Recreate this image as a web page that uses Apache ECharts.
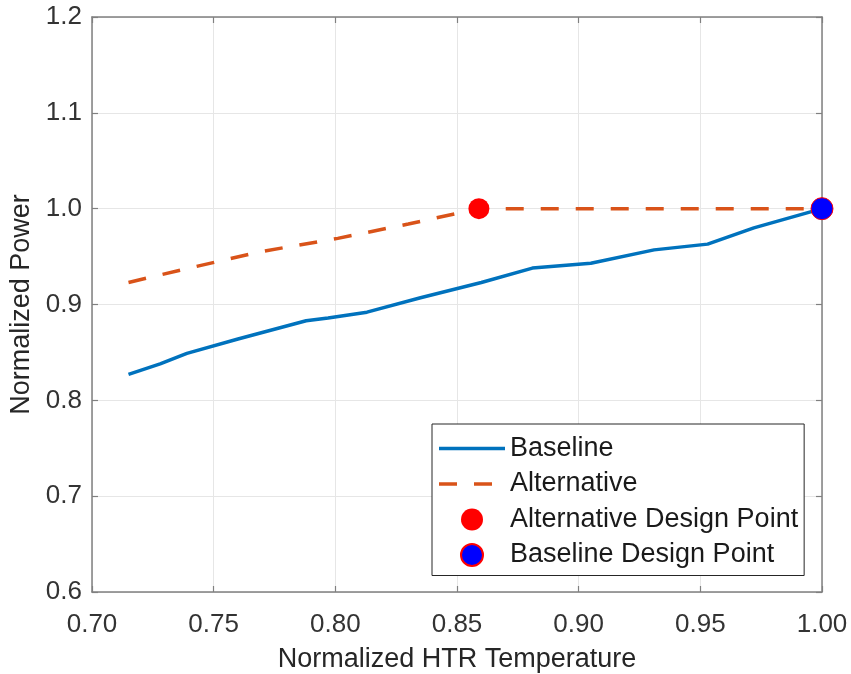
<!DOCTYPE html>
<html>
<head>
<meta charset="utf-8">
<script src="https://cdn.jsdelivr.net/npm/echarts@6/dist/echarts.min.js"></script>
<style>
html,body{margin:0;padding:0;background:#fff;}
#c{width:851px;height:674px;}
</style>
</head>
<body>
<div id="c"></div>
<script>
const baselineX = [0.715, 0.728, 0.739, 0.760, 0.788, 0.797, 0.813, 0.835, 0.860, 0.881, 0.905, 0.931, 0.953, 0.972, 1.000];
const baselineY = [0.827, 0.838, 0.849, 0.864, 0.883, 0.886, 0.892, 0.907, 0.923, 0.938, 0.943, 0.957, 0.963, 0.980, 1.000];
const alternativeX = [0.715, 0.740, 0.769, 0.801, 0.830, 0.859, 1.000];
const alternativeY = [0.923, 0.938, 0.955, 0.969, 0.984, 1.000, 1.000];
const altDesignPoint = [0.859, 1.000];
const baseDesignPoint = [1.000, 1.000];
const seriesNames = ['Baseline', 'Alternative', 'Alternative Design Point', 'Baseline Design Point'];
const xLabel = 'Normalized HTR Temperature';
const yLabel = 'Normalized Power';

const FONT = 'Liberation Sans, Arial, sans-serif';
const TXT = '#262626';
const AX = '#808080';
const GRID = '#e6e6e6';

const chart = echarts.init(document.getElementById('c'), null, {renderer: 'canvas'});

function zip(a, b) { return a.map((v, i) => [v, b[i]]); }

const solidIcon = 'path://M0,0h66v3.5h-66z';
const dashIcon = 'path://M0,0h18v3.5h-18z M35,0h18v3.5h-18z M66,0v3.5';

const option = {
  backgroundColor: '#ffffff',
  animation: false,
  grid: {left: 92, right: 29, top: 17, bottom: 82, containLabel: false, outerBoundsMode: 'none'},
  xAxis: [{
    type: 'value', min: 0.7, max: 1.0, interval: 0.05,
    name: xLabel, nameLocation: 'middle', nameGap: 54,
    nameTextStyle: {fontFamily: FONT, fontSize: 27, color: TXT},
    axisLine: {show: true, onZero: false, lineStyle: {color: AX, width: 1.5}},
    axisTick: {show: true, inside: true, length: 6, lineStyle: {color: AX, width: 1.2}},
    axisLabel: {fontFamily: FONT, fontSize: 26, color: '#333333', margin: 20,
      formatter: v => v.toFixed(2)},
    splitLine: {show: true, lineStyle: {color: GRID, width: 1}}
  }, {
    type: 'value', min: 0.7, max: 1.0, interval: 0.05, position: 'top',
    axisLine: {show: true, onZero: false, lineStyle: {color: AX, width: 1.5}},
    axisTick: {show: true, inside: true, length: 6, lineStyle: {color: AX, width: 1.2}},
    axisLabel: {show: false}, splitLine: {show: false}
  }],
  yAxis: [{
    type: 'value', min: 0.6, max: 1.2, interval: 0.1,
    name: yLabel, nameLocation: 'middle', nameGap: 57,
    nameTextStyle: {fontFamily: FONT, fontSize: 27, color: TXT},
    axisLine: {show: true, onZero: false, lineStyle: {color: AX, width: 1.5}},
    axisTick: {show: true, inside: true, length: 6, lineStyle: {color: AX, width: 1.2}},
    axisLabel: {fontFamily: FONT, fontSize: 26, color: '#333333', margin: 10,
      padding: [7, 0, 0, 0],
      formatter: v => v.toFixed(1)},
    splitLine: {show: true, lineStyle: {color: GRID, width: 1}}
  }, {
    type: 'value', min: 0.6, max: 1.2, interval: 0.1, position: 'right',
    axisLine: {show: true, onZero: false, lineStyle: {color: AX, width: 1.5}},
    axisTick: {show: true, inside: true, length: 6, lineStyle: {color: AX, width: 1.2}},
    axisLabel: {show: false}, splitLine: {show: false}
  }],
  legend: {
    orient: 'vertical',
    left: 432, top: 424,
    padding: [11, 6, 7, 7],
    backgroundColor: '#ffffff',
    borderColor: '#262626', borderWidth: 1,
    itemWidth: 66, itemHeight: 22, itemGap: 8.5, itemTextGap: 7,
    symbolKeepAspect: true,
    textStyle: {fontFamily: FONT, fontSize: 27, color: '#1a1a1a'},
    data: [
      {name: seriesNames[0], icon: solidIcon, itemStyle: {color: '#0072BD'}},
      {name: seriesNames[1], icon: dashIcon, itemStyle: {color: '#D95319'}},
      {name: seriesNames[2]},
      {name: seriesNames[3]}
    ]
  },
  series: [{
    name: seriesNames[0], type: 'line',
    data: zip(baselineX, baselineY),
    showSymbol: false, symbol: 'none',
    lineStyle: {color: '#0072BD', width: 3.5},
    itemStyle: {color: '#0072BD'},
    z: 3
  }, {
    name: seriesNames[1], type: 'line',
    data: zip(alternativeX, alternativeY),
    showSymbol: false, symbol: 'none',
    lineStyle: {color: '#D95319', width: 3.5, type: [18, 17]},
    itemStyle: {color: '#D95319'},
    z: 3
  }, {
    name: seriesNames[2], type: 'scatter',
    data: [altDesignPoint],
    symbol: 'circle', symbolSize: 21,
    itemStyle: {color: '#ff0000', opacity: 1},
    z: 5
  }, {
    name: seriesNames[3], type: 'scatter',
    data: [baseDesignPoint],
    symbol: 'circle', symbolSize: 22,
    itemStyle: {color: '#0000ff', borderColor: '#ff0000', borderWidth: 1, opacity: 1},
    z: 6
  }]
};
chart.setOption(option);
</script>
</body>
</html>
